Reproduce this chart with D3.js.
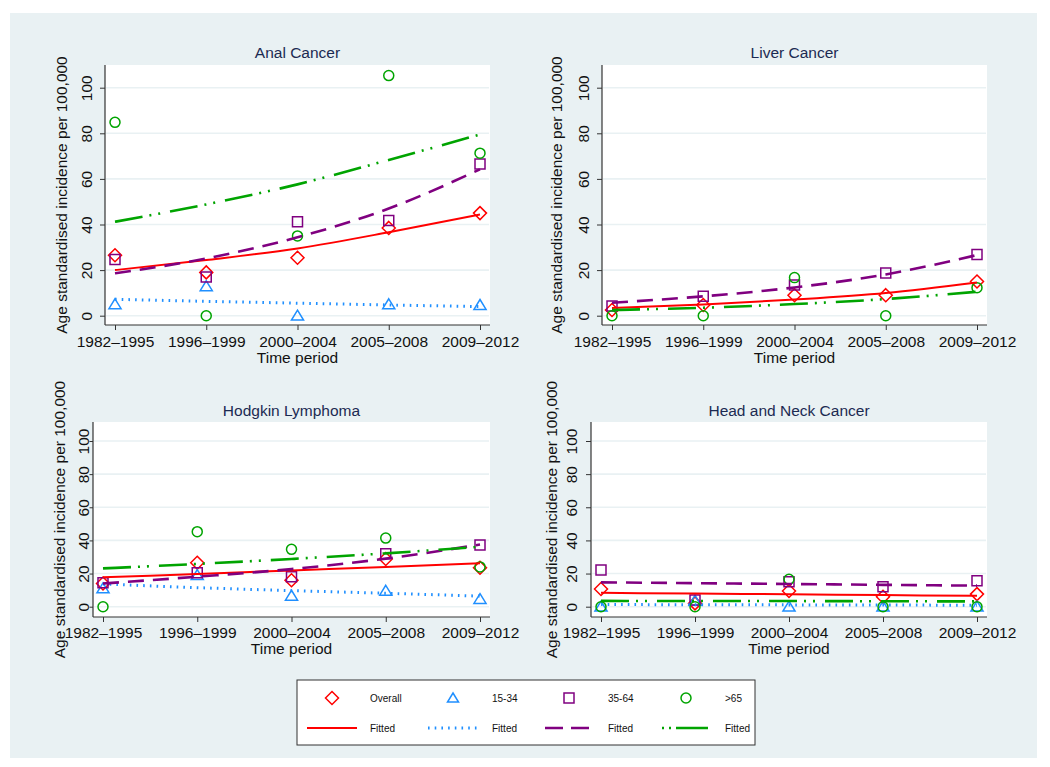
<!DOCTYPE html>
<html>
<head>
<meta charset="utf-8">
<script src="https://cdn.jsdelivr.net/npm/d3@7"></script>
<style>
  html, body { margin: 0; padding: 0; background: #ffffff; }
  svg { display: block; }
  text { font-family: "Liberation Sans", Arial, Helvetica, sans-serif; }
</style>
</head>
<body>
<svg id="chart" width="1050" height="767"></svg>
<script>
// ---------------- DATA ----------------
const periods = ["1982\u20131995", "1996\u20131999", "2000\u20132004", "2005\u20132008", "2009\u20132012"];
const cancers = ["Anal Cancer", "Liver Cancer", "Hodgkin Lymphoma", "Head and Neck Cancer"];
const seriesNames = ["Overall", "15-34", "35-64", ">65"];
const yTicks = [0, 20, 40, 60, 80, 100];

// observed values (per cancer, per period)
const overallObs = [
  [26.5, 19, 25.4, 38.5, 45],
  [2.5, 4.7, 9, 9, 15],
  [14, 26.5, 16, 28.8, 23.5],
  [10.7, 2, 9.5, 6, 7.6]
];
const age1534Obs = [
  [5, 12.9, 0, 5, 4.7],
  null,
  [11, 19, 6.6, 9.6, 4.6],
  [0, 3.6, 0, 0, 0]
];
const age3564Obs = [
  [24.6, 17, 41.2, 41.7, 66.5],
  [4.2, 8.5, 13.5, 18.7, 26.8],
  [14.5, 20.5, 18, 32, 37.2],
  [22.1, 4, 15, 12, 15.7]
];
const age65Obs = [
  [84.8, 0, 35, 105.3, 71.3],
  [0, 0, 16.7, 0, 12.3],
  [0, 45.3, 34.6, 41.4, 24],
  [0, 0, 16.5, 0, 0]
];

// fitted values
const overallFit = [
  [20, 24.4, 29.5, 36.6, 44.4],
  [3.4, 4.9, 7.1, 10, 14.6],
  [17.7, 19.8, 21.9, 24, 26.2],
  [8.4, 7.9, 7.5, 7, 6.6]
];
const age1534Fit = [
  [7.2, 6.3, 5.5, 4.7, 4],
  null,
  [13.7, 11.5, 9.7, 8.1, 6.4],
  [1.3, 1.2, 1.1, 1, 0.9]
];
const age3564Fit = [
  [18.6, 25.1, 34.4, 47, 64.2],
  [5.7, 8.5, 12.4, 18.1, 26.6],
  [14, 18.1, 22.7, 29, 37.5],
  [14.7, 14.2, 13.7, 13.2, 12.7]
];
const age65Fit = [
  [41.2, 48.8, 57.6, 68.3, 79.5],
  [2.5, 3.5, 5.1, 7.3, 10.5],
  [23.1, 25.8, 28.8, 32.2, 36.2],
  [3.5, 3.4, 3.4, 3.3, 3.2]
];

// ---------------- STYLE / LAYOUT ----------------
const colors = { overall: "#ff0000", y: "#1f8fff", m: "#800080", o: "#00a400" };
const bg = "#e9f1f3";
const gridColor = "#e9f1f3";
const titleColor = "#1c2a52";

const panels = [
  { left: 105, right: 490, top: 65, bottom: 325, xFirst: 115, xLast: 480, y0: 315.7, y100: 87.7,
    tickX: 87, tickLen: 5, yTitleX: 62, titleY: 58, tickLabY: 347, xTitleY: 363 },
  { left: 602, right: 987, top: 65, bottom: 325, xFirst: 612, xLast: 977, y0: 315.7, y100: 87.7,
    tickX: 584, tickLen: 5, yTitleX: 557, titleY: 58, tickLabY: 347, xTitleY: 363 },
  { left: 93, right: 490, top: 422, bottom: 617, xFirst: 103, xLast: 480, y0: 606.7, y100: 441,
    tickX: 83.5, tickLen: 3.5, yTitleX: 60, titleY: 416, tickLabY: 638, xTitleY: 654 },
  { left: 591, right: 987, top: 422, bottom: 617, xFirst: 601, xLast: 977, y0: 606.7, y100: 441,
    tickX: 572, tickLen: 5, yTitleX: 552, titleY: 416, tickLabY: 638, xTitleY: 654 }
];

const svg = d3.select("#chart");
svg.append("rect").attr("x", 10).attr("y", 13).attr("width", 1027).attr("height", 745).attr("fill", bg);

const symDiamond = (s) => `M0,${-s}L${s},0L0,${s}L${-s},0Z`;
const symTriangle = (s) => `M0,${-s}L${s * 1.1},${s * 0.8}L${-s * 1.1},${s * 0.8}Z`;
const symSquare = (s) => `M${-s},${-s}H${s}V${s}H${-s}Z`;

const markerDefs = [
  { obs: overallObs, fit: overallFit, color: colors.overall, path: symDiamond(6.5), dash: null, width: 2 },
  { obs: age1534Obs, fit: age1534Fit, color: colors.y, path: symTriangle(5.5), dash: "1.6 5.1", width: 3 },
  { obs: age3564Obs, fit: age3564Fit, color: colors.m, path: symSquare(5), dash: "16 9", width: 2.6 },
  { obs: age65Obs, fit: age65Fit, color: colors.o, path: "circle", dash: "28 7 2 7 2 10", width: 2.6 }
];

panels.forEach((p, i) => {
  const g = svg.append("g");
  const x = d3.scalePoint().domain(periods).range([p.xFirst, p.xLast]);
  const y = d3.scaleLinear().domain([0, 100]).range([p.y0, p.y100]);

  g.append("rect").attr("x", p.left).attr("y", p.top).attr("width", p.right - p.left)
    .attr("height", p.bottom - p.top).attr("fill", "#ffffff");

  g.selectAll(".grid").data(yTicks).enter().append("line")
    .attr("x1", p.left + 1).attr("x2", p.right - 1)
    .attr("y1", d => y(d)).attr("y2", d => y(d))
    .attr("stroke", gridColor).attr("stroke-width", 1.6);

  // y axis
  const yAxis = d3.axisLeft(y).tickValues(yTicks).tickSize(p.tickLen).tickSizeOuter(0).tickPadding(6);
  const ya = g.append("g").attr("transform", `translate(${p.left},0)`).call(yAxis);
  ya.select(".domain").remove();
  ya.append("line").attr("x1", 0).attr("x2", 0).attr("y1", p.top).attr("y2", p.bottom)
    .attr("stroke", "#333").attr("stroke-width", 1.2);
  ya.selectAll(".tick line").attr("stroke", "#333").attr("stroke-width", 1);
  ya.selectAll(".tick text")
    .attr("x", null)
    .attr("transform", `translate(${p.tickX - p.left},0) rotate(-90)`)
    .attr("text-anchor", "middle").attr("dy", "0.35em")
    .attr("y", 0)
    .style("font-size", "15.5px").style("font-family", "'Liberation Sans', Arial, sans-serif")
    .attr("fill", "#111");

  // x axis
  const xAxis = d3.axisBottom(x).tickSize(5).tickSizeOuter(0).tickPadding(4);
  const xa = g.append("g").attr("transform", `translate(0,${p.bottom})`).call(xAxis);
  xa.select(".domain").remove();
  xa.append("line").attr("x1", p.left).attr("x2", p.right).attr("y1", 0).attr("y2", 0)
    .attr("stroke", "#333").attr("stroke-width", 1.2);
  xa.selectAll(".tick line").attr("stroke", "#333").attr("stroke-width", 1);
  xa.selectAll(".tick text").attr("y", p.tickLabY - p.bottom).attr("dy", 0)
    .style("font-size", "15.5px").style("font-family", "'Liberation Sans', Arial, sans-serif")
    .attr("fill", "#111");

  // titles
  const cx = (p.left + p.right) / 2;
  g.append("text").attr("x", cx).attr("y", p.titleY).attr("text-anchor", "middle")
    .attr("fill", titleColor).style("font-size", "15.5px").text(cancers[i]);
  g.append("text").attr("x", cx).attr("y", p.xTitleY).attr("text-anchor", "middle")
    .attr("fill", "#111").style("font-size", "15.5px").text("Time period");
  g.append("text").attr("transform", `translate(${p.yTitleX},${(p.top + p.bottom) / 2}) rotate(-90)`)
    .attr("text-anchor", "middle").attr("dy", "0.35em")
    .attr("fill", "#111").style("font-size", "15.5px").text("Age standardised incidence per 100,000");

  // markers
  markerDefs.forEach(m => {
    const vals = m.obs[i];
    if (!vals) return;
    const pts = g.append("g");
    vals.forEach((v, j) => {
      if (m.path === "circle") {
        pts.append("circle").attr("cx", x(periods[j])).attr("cy", y(v)).attr("r", 5)
          .attr("fill", "none").attr("stroke", m.color).attr("stroke-width", 1.5);
      } else {
        pts.append("path").attr("d", m.path)
          .attr("transform", `translate(${x(periods[j])},${y(v)})`)
          .attr("fill", "none").attr("stroke", m.color).attr("stroke-width", 1.5);
      }
    });
  });

  // fitted lines
  const line = d3.line().x((d, j) => x(periods[j])).y(d => y(d)).curve(d3.curveMonotoneX);
  markerDefs.forEach(m => {
    const vals = m.fit[i];
    if (!vals) return;
    g.append("path").attr("d", line(vals)).attr("fill", "none")
      .attr("stroke", m.color).attr("stroke-width", m.width)
      .attr("stroke-dasharray", m.dash).attr("stroke-linecap", "butt");
  });
});

// ---------------- LEGEND ----------------
const lg = svg.append("g");
lg.append("rect").attr("x", 297).attr("y", 680).attr("width", 458).attr("height", 65)
  .attr("fill", "#ffffff").attr("stroke", "#333").attr("stroke-width", 1);
const legendCols = [
  { mx: 332, lx: 370, l1: 307, l2: 357 },
  { mx: 453, lx: 492, l1: 428, l2: 481 },
  { mx: 569, lx: 608, l1: 545, l2: 590 },
  { mx: 686, lx: 725, l1: 662, l2: 708 }
];
const legendMarker = [symDiamond(6.5), symTriangle(5), symSquare(5), "circle"];
const legendDash = [null, "1.6 5.1", "18 8", "2 5 2 5 32 0"];
legendCols.forEach((c, k) => {
  const m = markerDefs[k];
  if (legendMarker[k] === "circle") {
    lg.append("circle").attr("cx", c.mx).attr("cy", 698).attr("r", 5)
      .attr("fill", "none").attr("stroke", m.color).attr("stroke-width", 1.5);
  } else {
    lg.append("path").attr("d", legendMarker[k]).attr("transform", `translate(${c.mx},698)`)
      .attr("fill", "none").attr("stroke", m.color).attr("stroke-width", 1.5);
  }
  lg.append("text").attr("x", c.lx).attr("y", 698).attr("dy", "0.35em")
    .style("font-size", "10px").attr("fill", "#111").text(seriesNames[k]);
  lg.append("line").attr("x1", c.l1).attr("x2", c.l2).attr("y1", 728).attr("y2", 728)
    .attr("stroke", m.color).attr("stroke-width", m.width)
    .attr("stroke-dasharray", legendDash[k]);
  lg.append("text").attr("x", c.lx).attr("y", 728).attr("dy", "0.35em")
    .style("font-size", "10px").attr("fill", "#111").text("Fitted");
});
</script>
</body>
</html>
